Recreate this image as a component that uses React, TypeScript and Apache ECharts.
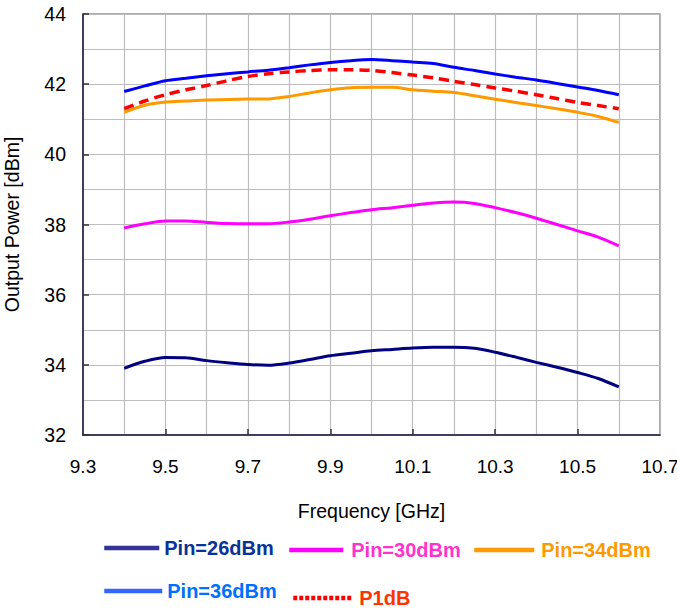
import React, { useEffect, useRef } from "react";
import * as echarts from "echarts";

const frequencies = [9.4, 9.45, 9.5, 9.55, 9.6, 9.65, 9.7, 9.75, 9.8, 9.85, 9.9, 9.95, 10.0, 10.05, 10.1, 10.15, 10.2, 10.25, 10.3, 10.35, 10.4, 10.45, 10.5, 10.55, 10.6];
const pin26 = [33.9, 34.1, 34.21, 34.2, 34.12, 34.06, 34.01, 33.99, 34.05, 34.15, 34.26, 34.33, 34.4, 34.44, 34.48, 34.5, 34.5, 34.47, 34.36, 34.22, 34.07, 33.93, 33.78, 33.61, 33.37];
const pin30 = [37.9, 38.02, 38.1, 38.1, 38.06, 38.03, 38.02, 38.02, 38.07, 38.15, 38.25, 38.34, 38.42, 38.48, 38.55, 38.61, 38.64, 38.6, 38.48, 38.34, 38.18, 38.0, 37.82, 37.64, 37.39];
const pin34 = [41.2, 41.4, 41.49, 41.52, 41.55, 41.56, 41.58, 41.58, 41.65, 41.75, 41.84, 41.9, 41.91, 41.91, 41.84, 41.8, 41.76, 41.67, 41.57, 41.48, 41.39, 41.3, 41.2, 41.08, 40.91];
const pin36 = [41.79, 41.95, 42.1, 42.17, 42.24, 42.3, 42.35, 42.4, 42.47, 42.55, 42.62, 42.67, 42.7, 42.67, 42.63, 42.59, 42.48, 42.39, 42.29, 42.2, 42.12, 42.02, 41.92, 41.82, 41.7];
const p1dB = [41.3, 41.52, 41.7, 41.84, 41.96, 42.1, 42.22, 42.3, 42.35, 42.39, 42.41, 42.41, 42.39, 42.33, 42.26, 42.18, 42.08, 41.99, 41.89, 41.8, 41.7, 41.59, 41.48, 41.39, 41.3];

const xTickLabels = [9.3, 9.5, 9.7, 9.9, 10.1, 10.3, 10.5, 10.7];
const xTickMarks = [9.5, 9.7, 9.9, 10.1, 10.3, 10.5];

const FONT = "'Liberation Sans', Arial, sans-serif";

const pairs = (ys: number[]) => frequencies.map((f, i) => [f, ys[i]]);

export default function App() {
  const ref = useRef<HTMLDivElement>(null);
  useEffect(() => {
    if (!ref.current) return;
    const chart = echarts.init(ref.current, undefined, { renderer: "svg" });
    const legendBase = {
      orient: "horizontal" as const,
      padding: 0,
      itemHeight: 18,
      selectedMode: false,
      textStyle: { fontFamily: FONT, fontSize: 20, fontWeight: "bold" as const },
    };
    const gridColor = "#bdbdbd";
    const axisColor = "#1a1a3a";
    chart.setOption({
      animation: false,
      backgroundColor: "#ffffff",
      grid: {
        left: 83,
        right: 17,
        top: 14,
        bottom: 175,
        show: true,
        borderColor: "#8c8cab",
        borderWidth: 1.5,
        containLabel: false,
        outerBoundsMode: "none",
      },
      xAxis: [
        {
          type: "value",
          position: "bottom",
          min: 9.3,
          max: 10.7,
          interval: 0.1,
          axisLine: { show: false },
          axisTick: { show: false },
          axisLabel: { show: false },
          splitLine: { show: true, lineStyle: { color: gridColor, width: 1.2 } },
        },
        {
          type: "value",
          position: "bottom",
          min: 9.3,
          max: 10.7,
          name: "Frequency [GHz]",
          nameLocation: "middle",
          nameGap: 66,
          nameTextStyle: { fontFamily: FONT, fontSize: 19.5, color: "#000" },
          axisLine: { show: true, onZero: false, lineStyle: { color: axisColor, width: 1.5 } },
          axisTick: { show: true, inside: true, length: 6, customValues: xTickMarks, lineStyle: { color: "#333", width: 1.5 } },
          axisLabel: {
            customValues: xTickLabels,
            fontFamily: FONT,
            fontSize: 19,
            color: "#000",
            margin: 22,
            formatter: (v: number) => v.toFixed(1),
          },
          splitLine: { show: false },
        },
      ],
      yAxis: {
        type: "value",
        position: "left",
        min: 32,
        max: 44,
        interval: 2,
        name: "Output Power [dBm]",
        nameLocation: "middle",
        nameGap: 61,
        nameTextStyle: { fontFamily: FONT, fontSize: 19.5, color: "#000" },
        axisLine: { show: true, onZero: false, lineStyle: { color: axisColor, width: 1.5 } },
        axisTick: { show: true, inside: true, length: 6, lineStyle: { color: "#333", width: 1.5 } },
        axisLabel: {
          fontFamily: FONT,
          fontSize: 19.5,
          color: "#000",
          margin: 17,
        },
        splitLine: { show: true, lineStyle: { color: gridColor, width: 1.2 } },
        minorTick: { show: false, splitNumber: 2 },
        minorSplitLine: { show: true, lineStyle: { color: gridColor, width: 1.2 } },
      },
      legend: [
        {
          ...legendBase,
          left: 102,
          top: 538,
          itemWidth: 55,
          data: [{ name: "Pin=26dBm", textStyle: { color: "#0a3399", padding: [4, 0, 0, 0] }, itemStyle: { opacity: 0 }, lineStyle: { color: "#333399", width: 4.5 } }],
        },
        {
          ...legendBase,
          left: 287,
          top: 540,
          itemWidth: 54,
          data: [{ name: "Pin=30dBm", textStyle: { color: "#ff33cc", padding: [0, 0, 0, 3] }, itemStyle: { opacity: 0 }, lineStyle: { color: "#ff00ff", width: 4.5 } }],
        },
        {
          ...legendBase,
          left: 472,
          top: 540,
          itemWidth: 60,
          data: [{ name: "Pin=34dBm", textStyle: { color: "#ff9900", padding: [0, 0, 0, 2] }, itemStyle: { opacity: 0 }, lineStyle: { color: "#ff9900", width: 4.5 } }],
        },
        {
          ...legendBase,
          left: 102,
          top: 581,
          itemWidth: 58,
          data: [{ name: "Pin=36dBm", textStyle: { color: "#0070ff", padding: [4, 0, 0, 0] }, itemStyle: { opacity: 0 }, lineStyle: { color: "#3366ff", width: 4.5 } }],
        },
        {
          ...legendBase,
          left: 291,
          top: 588,
          itemWidth: 59,
          data: [{ name: "P1dB", textStyle: { color: "#ff3300", padding: [0, 0, 0, 2] }, itemStyle: { opacity: 0 }, lineStyle: { color: "#ff0000", width: 4.5, type: [4, 2] } }],
        },
      ],
      series: [
        { name: "Pin=26dBm", type: "line", xAxisIndex: 0, data: pairs(pin26), showSymbol: false, symbol: "none", smooth: 0.3, lineStyle: { color: "#000080", width: 3 }, itemStyle: { color: "#000080" } },
        { name: "Pin=30dBm", type: "line", xAxisIndex: 0, data: pairs(pin30), showSymbol: false, symbol: "none", smooth: 0.3, lineStyle: { color: "#ff00ff", width: 3 }, itemStyle: { color: "#ff00ff" } },
        { name: "Pin=34dBm", type: "line", xAxisIndex: 0, data: pairs(pin34), showSymbol: false, symbol: "none", smooth: 0.3, lineStyle: { color: "#ff9900", width: 3 }, itemStyle: { color: "#ff9900" } },
        { name: "Pin=36dBm", type: "line", xAxisIndex: 0, data: pairs(pin36), showSymbol: false, symbol: "none", smooth: 0.3, lineStyle: { color: "#0000ff", width: 3 }, itemStyle: { color: "#0000ff" } },
        { name: "P1dB", type: "line", xAxisIndex: 0, data: pairs(p1dB), showSymbol: false, symbol: "none", smooth: 0.3, lineStyle: { color: "#ff0000", width: 3.5, type: [10, 6] }, itemStyle: { color: "#ff0000" } },
      ],
    });
    return () => chart.dispose();
  }, []);
  return <div ref={ref} style={{ position: "fixed", left: 0, top: 0, width: 677, height: 610 }} />;
}
